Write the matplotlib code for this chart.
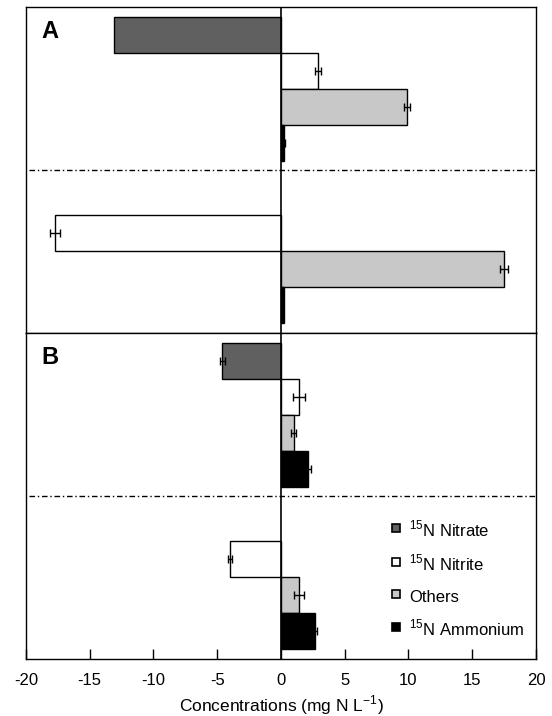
import numpy as np
import matplotlib.pyplot as plt
from matplotlib.lines import Line2D

plt.rcParams['font.family'] = ['Liberation Sans', 'DejaVu Sans']
plt.rcParams['mathtext.fontset'] = 'custom'
plt.rcParams['mathtext.rm'] = 'Liberation Sans'
plt.rcParams['axes.unicode_minus'] = False

species = ['$^{15}$N Nitrate', '$^{15}$N Nitrite', 'Others', '$^{15}$N Ammonium']
colors = ['#606060', 'white', '#c8c8c8', 'black']

# panel A: two treatments, four species each
a_vals = [[-13.1, 2.9, 9.9, 0.2],
          [0.0, -17.75, 17.5, 0.2]]
a_err = [[0.0, 0.25, 0.25, 0.1],
         [0.0, 0.4, 0.3, 0.0]]

# panel B
b_vals = [[-4.6, 1.4, 1.0, 2.15],
          [0.0, -4.0, 1.4, 2.7]]
b_err = [[0.18, 0.45, 0.18, 0.2],
         [0.0, 0.17, 0.37, 0.15]]

group_pos = [0.0, 4.5]
offsets = np.array([-1.5, -0.5, 0.5, 1.5])

fig = plt.figure(figsize=(5.52, 7.16), dpi=100)
axA = fig.add_axes([0.0471, 0.5349, 0.9239, 0.4553])
axB = fig.add_axes([0.0471, 0.0796, 0.9239, 0.4553])


def draw_panel(ax, vals, errs, letter):
    for g, y0 in enumerate(group_pos):
        for i in range(4):
            v = vals[g][i]
            if v == 0:
                continue
            ax.barh(y0 + offsets[i], v, height=1.0, color=colors[i],
                    edgecolor='black', linewidth=1.0, zorder=2)
            if errs[g][i] > 0:
                ax.errorbar(v, y0 + offsets[i], xerr=errs[g][i], fmt='none',
                            ecolor='black', elinewidth=1.0, capsize=3.2,
                            capthick=1.0, zorder=3)
    ax.axvline(0, color='black', lw=1.2, zorder=4)
    ax.axhline((group_pos[0] + group_pos[1]) / 2, xmin=0.005, xmax=1,
               color='black', lw=1.0, linestyle=(0, (4, 2, 1, 2)), zorder=1)
    ax.set_xlim(-20, 20)
    ax.set_ylim(6.78, -2.27)
    ax.set_yticks([])
    for s in ax.spines.values():
        s.set_linewidth(1.0)
    ax.text(0.031, 0.925, letter, transform=ax.transAxes, fontsize=17,
            fontweight='bold', va='center', ha='left')


draw_panel(axA, a_vals, a_err, 'A')
draw_panel(axB, b_vals, b_err, 'B')

axA.set_xticks([])
axB.set_xticks(np.arange(-20, 21, 5))
axB.tick_params(axis='x', direction='in', length=7, width=1.0,
                labelsize=12, pad=10)
axB.set_xlabel('Concentrations (mg N L$^{-1}$)', fontsize=12.5, labelpad=4)

handles = [Line2D([], [], marker='s', linestyle='none', markersize=6,
                  markerfacecolor=c, markeredgecolor='black', markeredgewidth=1.2)
           for c in colors]
axB.legend(handles, species, loc='lower right', bbox_to_anchor=(1.0, 0.023),
           frameon=False, fontsize=12, handletextpad=0.3, labelspacing=0.68,
           borderaxespad=0.4, handlelength=1.0, handleheight=1.5, borderpad=0.3)

fig.savefig('out.png', dpi=100)
